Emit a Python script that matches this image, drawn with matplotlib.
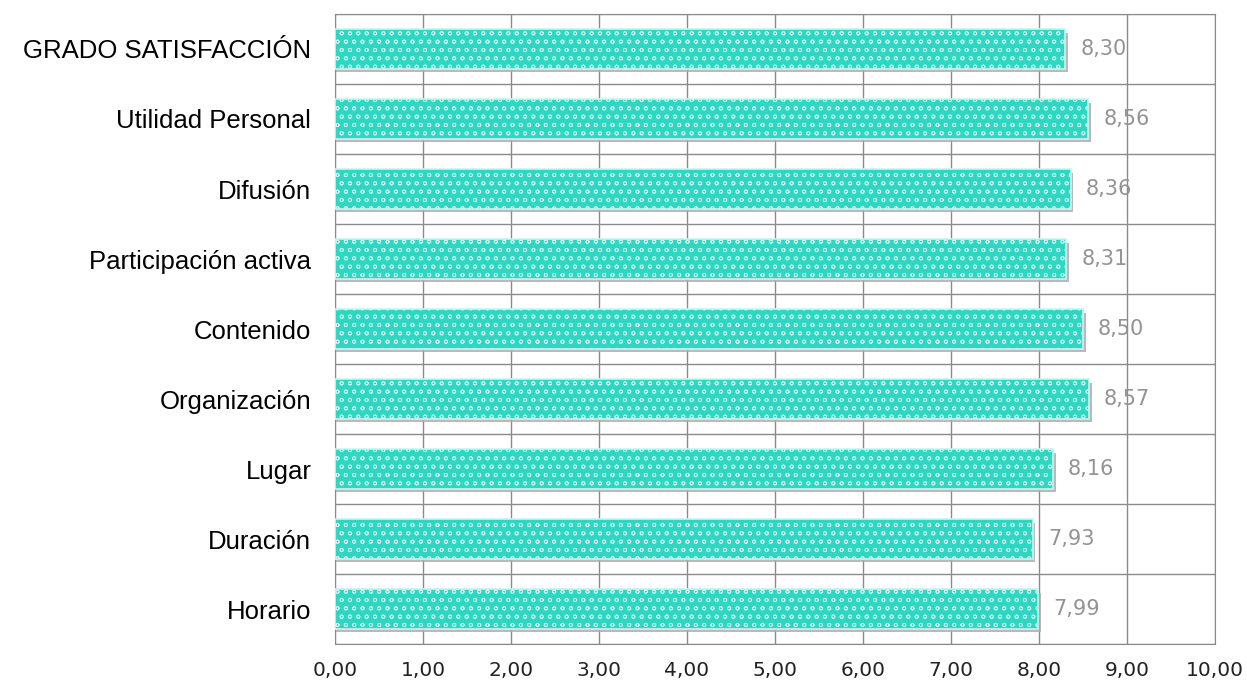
import matplotlib.pyplot as plt
import numpy as np

categories = ['Horario', 'Duración', 'Lugar', 'Organización', 'Contenido',
              'Participación activa', 'Difusión', 'Utilidad Personal', 'GRADO SATISFACCIÓN']
values = [7.99, 7.93, 8.16, 8.57, 8.50, 8.31, 8.36, 8.56, 8.30]
xticks = [0, 1, 2, 3, 4, 5, 6, 7, 8, 9, 10]

plt.rcParams['hatch.color'] = '#6fe4d6'
plt.rcParams['hatch.linewidth'] = 0.6

fig = plt.figure(figsize=(12.47, 6.86), dpi=100)
ax = fig.add_axes([0.2686, 0.0612, 0.7057, 0.9184])

y = np.arange(len(categories))
# drop shadow under each bar
ax.barh(y - 0.055, [v + 0.03 for v in values], height=0.56, left=0.0,
        color='#b3abaf', alpha=0.85, linewidth=0, zorder=2)
ax.barh(y, values, height=0.56, color='#2fd6c2', edgecolor='#c8f5ef',
        linewidth=1.2, hatch='oo', zorder=3)

for yi, v in zip(y, values):
    ax.text(v + 0.17, yi, f'{v:.2f}'.replace('.', ','), va='center', ha='left',
            fontsize=15, color='#939393', zorder=4)

ax.set_xlim(0, 10)
ax.set_ylim(-0.5, len(categories) - 0.5)
ax.set_xticks(xticks)
ax.set_xticklabels([f'{t:.2f}'.replace('.', ',') for t in xticks], fontsize=14.5, color='#222222')
ax.set_yticks(y)
ax.set_yticklabels(categories, fontsize=18.5, family='Liberation Sans')

for xv in xticks:
    ax.axvline(xv, color='#8a8a8a', lw=1, zorder=1)
for yb in np.arange(-0.5, len(categories), 1):
    ax.axhline(yb, color='#8a8a8a', lw=1, zorder=1)

ax.tick_params(axis='both', length=0)
ax.tick_params(axis='y', pad=17)
ax.tick_params(axis='x', pad=12)
for s in ax.spines.values():
    s.set_color('#8a8a8a')

plt.savefig('out.png', dpi=100)
